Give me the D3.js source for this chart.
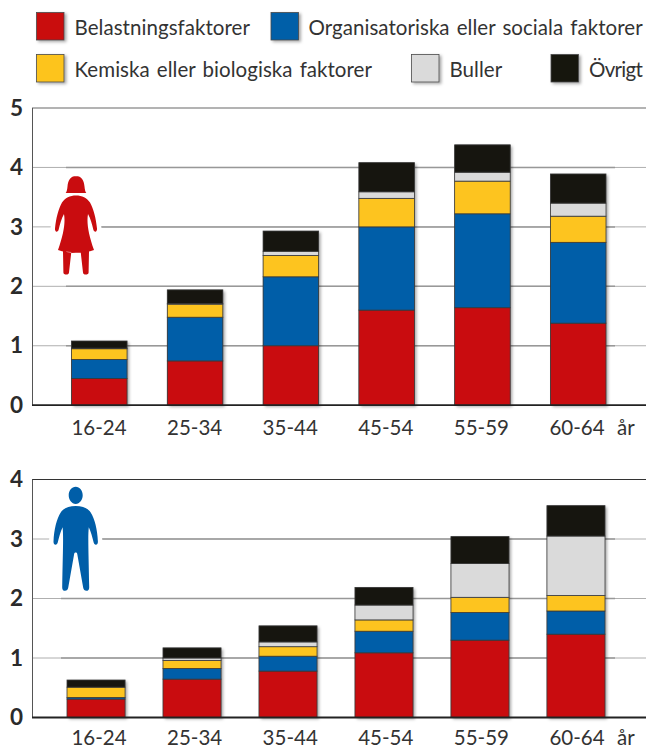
<!DOCTYPE html>
<html lang="sv"><head><meta charset="utf-8">
<script src="https://cdn.jsdelivr.net/npm/d3@7/dist/d3.min.js"></script>
<style>
html,body{margin:0;padding:0;background:#fff}
svg{display:block}
text{font-family:Lato,sans-serif;fill:#333}
.lab{font-size:20.5px;word-spacing:1.8px}
.unit{font-size:20.5px}
.yt text{font-family:Lato,sans-serif;font-weight:700;font-size:22.5px;fill:#2b2b2b}
.xt text{font-family:Lato,sans-serif;font-size:20.5px;fill:#333}
</style></head><body>
<svg id="c" width="646" height="749"></svg>
<script>
const ages = ["16-24","25-34","35-44","45-54","55-59","60-64"];
const seriesNames = ["Belastningsfaktorer","Organisatoriska eller sociala faktorer","Kemiska eller biologiska faktorer","Buller","Övrigt"];
const seriesKeys = ["load","org","chem","noise","other"];
const seriesColors = ["#c90c0f","#005ea8","#fdc41f","#dadada","#16150f"];
const yearUnit = "år";

// women
const womenLoad  = [0.45,0.745,1.00,1.60,1.64,1.38];
const womenOrg   = [0.32,0.735,1.16,1.40,1.58,1.36];
const womenChem  = [0.18,0.22,0.36,0.48,0.55,0.44];
const womenNoise = [0.01,0.01,0.07,0.11,0.15,0.22];
const womenOther = [0.12,0.23,0.34,0.49,0.46,0.49];
// men
const menLoad  = [0.31,0.645,0.78,1.087,1.30,1.40];
const menOrg   = [0.026,0.18,0.25,0.363,0.465,0.39];
const menChem  = [0.174,0.135,0.16,0.19,0.255,0.26];
const menNoise = [0.00,0.04,0.08,0.25,0.57,1.00];
const menOther = [0.12,0.17,0.27,0.295,0.45,0.51];

const womenTicks = [0,1,2,3,4,5];
const menTicks = [0,1,2,3,4];

const womanIcon = "M76 176c-5.500 0-8 4.500-8.500 10.500-.3 3-.8 5.500-1.800 6.600h20.600c-1-1.100-1.500-3.600-1.800-6.600-.5-6-3-10.500-8.500-10.500zM76 195.500c-6 0-11 2.500-14 7-3.500 6.500-6 15.500-7 26-.2 1.600.5 3.200 1.600 3.200 1 0 1.700-.8 2.100-2.200 1.200-5 2.800-11 5.300-15.500 1.500 8-.2 20-6 36 5 1.700 11 2.700 18 2.700s13-1 18-2.700c-5.800-16-7.500-28-6-36 2.500 4.500 4.100 10.500 5.300 15.500 .4 1.400 1.100 2.200 2.100 2.200 1.100 0 1.800-1.600 1.600-3.200-1-10.500-3.500-19.500-7-26-3-4.500-8-7-14-7zM63 251.500l8.300 .6-2.300 20.400c-.2 1.400-1.100 2-2.700 2s-2.900-.6-2.900-2zM89 251.500l-8.300 .6 2.300 20.400c.2 1.400 1.100 2 2.700 2s2.900-.6 2.900-2z";
const manIcon = "M75.700 486.800c-4 0-7 3.800-7 8.500s3 8.600 7 8.600 7-3.900 7-8.600-3-8.500-7-8.500zM75.700 506c-7 0-12 2-15 6.500-4 6-6.700 17-7.200 29-.1 2 .8 3.300 2 3.300s1.900-.9 2.300-2.500c1.200-5 2.700-10.500 4.800-15 1 10 .2 24-.4 60-.05 2.300 1 3.500 2.800 3.500s2.800-1 3.200-3l6-34c.3-1.700 2.700-1.700 3 0l6 34c.4 2 1.400 3 3.200 3s2.850-1.200 2.800-3.500c-.6-36-1.400-50-.4-60 2.100 4.500 3.600 10 4.800 15 .4 1.600 1.100 2.500 2.300 2.500s2.100-1.300 2-3.300c-.5-12-3.200-23-7.200-29-3-4.500-8-6.500-15-6.500z";

const svg = d3.select("#c");
const defs = svg.append("defs");
const f = defs.append("filter").attr("id","sh").attr("x","-20%").attr("y","-20%").attr("width","150%").attr("height","150%");
f.append("feDropShadow").attr("dx",2).attr("dy",1.5).attr("stdDeviation",1.6).attr("flood-color","#000").attr("flood-opacity",0.35);

// legend
const legendSpots = [[36.5,12.5,74.5,35],[271,12.5,308.5,35],[36.5,54.5,74.5,76.500],[411.5,54.5,449.5,76.500],[551,54.5,589,76.500]];
const lg = svg.append("g").selectAll("g").data(seriesNames).join("g");
lg.append("rect").attr("x",(d,i)=>legendSpots[i][0]).attr("y",(d,i)=>legendSpots[i][1])
  .attr("width",27.500).attr("height",27.500).attr("fill",(d,i)=>seriesColors[i])
  .attr("stroke","#4a4a4a").attr("stroke-width",0.8).attr("filter","url(#sh)");
lg.append("text").attr("class","lab").attr("x",(d,i)=>legendSpots[i][2]).attr("y",(d,i)=>legendSpots[i][3])
  .attr("letter-spacing",(d,i)=>i===4?-0.7:0.05).text(d=>d);

function chart(cfg){
  const g = svg.append("g");
  const y = d3.scaleLinear().domain([0,cfg.ticks[cfg.ticks.length-1]]).range([cfg.y0,cfg.y1]);
  const x = d3.scaleBand().domain(ages).range(cfg.xr).paddingInner(cfg.pad).paddingOuter(0);
  const xl = d3.scalePoint().domain(ages).range([98.5,576.5]);
  const inner = cfg.ticks.filter(t=>t>0 && t<cfg.ticks[cfg.ticks.length-1]);
  const top = cfg.ticks[cfg.ticks.length-1];
  // thin grid across the whole width
  g.selectAll(".thin").data(inner).join("line").attr("x1",32).attr("x2",646)
    .attr("y1",d=>y(d)).attr("y2",d=>y(d)).attr("stroke","#9a9a9a").attr("stroke-width",0.8);
  g.selectAll(".thick").data(inner).join("line").attr("x1",cfg.gx).attr("x2",615)
    .attr("y1",d=>y(d)).attr("y2",d=>y(d)).attr("stroke","#989898").attr("stroke-width",1.5);
  g.append("line").attr("x1",32).attr("x2",646).attr("y1",y(top)).attr("y2",y(top))
    .attr("stroke",cfg.topColor).attr("stroke-width",cfg.topW);
  g.append("line").attr("x1",32.5).attr("x2",32.5).attr("y1",y(top)).attr("y2",y(0)).attr("stroke","#555").attr("stroke-width",1);

  // icon with white halo
  g.append("path").attr("d",cfg.icon).attr("fill","#fff").attr("stroke","#fff").attr("stroke-width",9).attr("stroke-linejoin","round");
  g.append("path").attr("d",cfg.icon).attr("fill",cfg.iconColor);

  const rows = ages.map((a,i)=>{const r={age:a}; seriesKeys.forEach((k,j)=>r[k]=cfg.data[j][i]); return r;});
  const stack = d3.stack().keys(seriesKeys)(rows);
  const bars = g.append("g");
  bars.selectAll("rect.bg").data(ages).join("rect").attr("x",d=>x(d)).attr("width",x.bandwidth())
    .attr("y",(d,i)=>y(stack[4][i][1])).attr("height",(d,i)=>y(0)-y(stack[4][i][1]))
    .attr("fill","#444").attr("filter","url(#sh)");
  stack.forEach((s,j)=>{
    bars.append("g").selectAll("rect").data(s).join("rect")
      .attr("x",d=>x(d.data.age)).attr("width",x.bandwidth())
      .attr("y",d=>y(d[1])).attr("height",d=>Math.max(0,y(d[0])-y(d[1])))
      .attr("fill",seriesColors[j]).attr("stroke","#3a3a3a").attr("stroke-width",0.8);
  });
  // baseline
  g.append("line").attr("x1",32).attr("x2",646).attr("y1",y(0)).attr("y2",y(0)).attr("stroke","#222").attr("stroke-width",1.8);

  const ya = g.append("g").attr("class","yt").attr("transform","translate(32,0)")
    .call(d3.axisLeft(y).tickValues(cfg.ticks).tickFormat(d3.format("d")).tickSize(0).tickPadding(9));
  ya.select(".domain").remove();
  const xa = g.append("g").attr("class","xt").attr("transform",`translate(0,${cfg.y0})`)
    .call(d3.axisBottom(xl).tickSize(0).tickPadding(cfg.xpad));
  xa.select(".domain").remove();
  g.append("text").attr("class","unit").attr("x",617).attr("y",cfg.y0+cfg.ubase).text(yearUnit);
}

chart({data:[womenLoad,womenOrg,womenChem,womenNoise,womenOther],ticks:womenTicks,y0:405.2,y1:108,
  xr:[71.5,606],pad:0.42,gx:66,icon:womanIcon,iconColor:"#c90c0f",topColor:"#9a9a9a",topW:1.5,xpad:15,ubase:29.5});
chart({data:[menLoad,menOrg,menChem,menNoise,menOther],ticks:menTicks,y0:717.5,y1:479.5,
  xr:[67,605],pad:0.395,gx:61,icon:manIcon,iconColor:"#005ea8",topColor:"#333",topW:1,xpad:12.5,ubase:27});
</script>
</body></html>
